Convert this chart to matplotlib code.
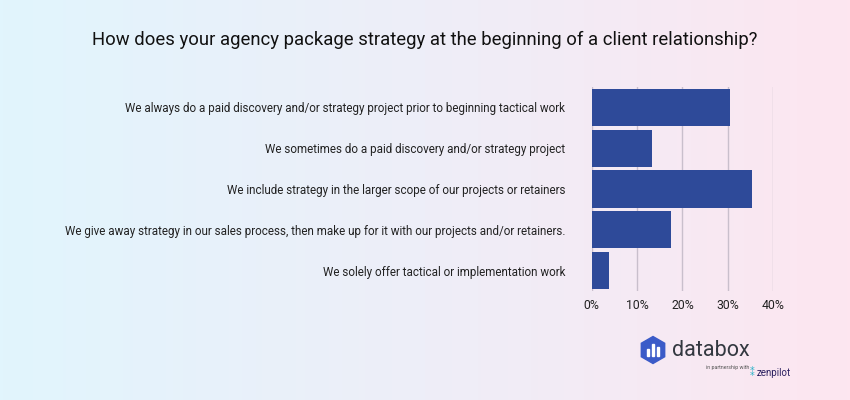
import numpy as np
import matplotlib.pyplot as plt
from matplotlib.colors import LinearSegmentedColormap
from matplotlib.patches import RegularPolygon, Rectangle

plt.rcParams['font.family'] = ['Roboto', 'DejaVu Sans']

# DATA
answers = [
    'We always do a paid discovery and/or strategy project prior to beginning tactical work',
    'We sometimes do a paid discovery and/or strategy project',
    'We include strategy in the larger scope of our projects or retainers',
    'We give away strategy in our sales process, then make up for it with our projects and/or retainers.',
    'We solely offer tactical or implementation work',
]
shares = [30.4, 13.3, 35.4, 17.5, 3.8]
ticks = [0, 10, 20, 30, 40]
tick_labels = ['0%', '10%', '20%', '30%', '40%']

fig = plt.figure(figsize=(8.5, 4), dpi=100)

# BACKGROUND GRADIENT
bg = fig.add_axes([0, 0, 1, 1], zorder=-1)
cmap = LinearSegmentedColormap.from_list('bg', ['#e1f5fd', '#eeeef8', '#fde6f0'])
bg.imshow(np.linspace(0, 1, 256).reshape(1, -1), aspect='auto', cmap=cmap,
          extent=[0, 1, 0, 1])
bg.set_xlim(0, 1)
bg.set_ylim(0, 1)
bg.axis('off')

# BARS
ax = fig.add_axes([0.696, 0.2725, 0.2136, 0.51])
ax.patch.set_alpha(0)
y = np.arange(len(answers))
ax.barh(y, shares, height=0.91, color='#2e4a99', zorder=3)
ax.set_ylim(len(answers) - 0.5, -0.5)
ax.set_xlim(0, 40)
ax.set_xticks(ticks)
ax.set_xticklabels(tick_labels, fontsize=8.8, color='#222222')
ax.set_yticks(y)
ax.set_yticklabels(answers, fontsize=8.4, color='#222222')
ax.tick_params(axis='both', length=0)
ax.tick_params(axis='y', pad=19)
ax.tick_params(axis='x', pad=6)
ax.grid(axis='x', color='#c9bfcc', linewidth=1, zorder=0)
for s in ax.spines.values():
    s.set_visible(False)

fig.text(0.5, 0.9, 'How does your agency package strategy at the beginning of a client relationship?',
         ha='center', va='center', fontsize=13.35, color='#111111')

# LOGO
tr = fig.dpi_scale_trans
fig.patches.append(RegularPolygon((6.53, 0.5), 6, radius=0.135, orientation=0,
                                  transform=tr, color='#3b5bc8'))
for bx, bh in [(6.465, 0.07), (6.515, 0.12), (6.565, 0.09)]:
    fig.patches.append(Rectangle((bx, 0.44), 0.025, bh, transform=tr, color='white'))
fig.text(6.72, 0.5, 'databox', ha='left', va='center', fontsize=15.5, color='#333840',
         transform=tr)
fig.text(7.06, 0.33, 'in partnership with', ha='left', va='center', fontsize=3.8,
         color='#555555', transform=tr)
fig.text(7.5, 0.27, '⁑', ha='left', va='center', fontsize=7, color='#2bb3c8', transform=tr)
fig.text(7.57, 0.27, 'zenpilot', ha='left', va='center', fontsize=7, color='#2b2060',
         transform=tr)

fig.savefig('out.png', dpi=100)
